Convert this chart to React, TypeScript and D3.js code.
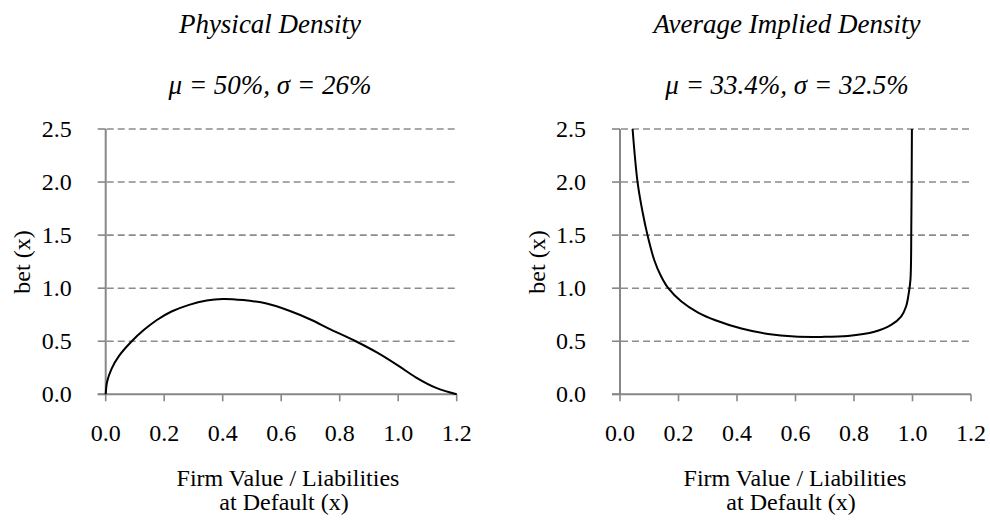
import React from "react";
import * as d3 from "d3";

const xTicks = [0, 0.2, 0.4, 0.6, 0.8, 1.0, 1.2];
const yTicks = [0, 0.5, 1.0, 1.5, 2.0, 2.5];

const physX = [0, 0.005, 0.02, 0.045, 0.089, 0.13, 0.175, 0.225, 0.285, 0.345, 0.4, 0.47, 0.55, 0.63, 0.7, 0.77, 0.855, 0.93, 1.0, 1.06, 1.13, 1.2];
const physY = [0, 0.12, 0.24, 0.36, 0.5, 0.605, 0.7, 0.78, 0.843, 0.884, 0.899, 0.888, 0.855, 0.785, 0.705, 0.61, 0.5, 0.39, 0.27, 0.16, 0.06, 0];

const implX = [0.043, 0.06, 0.077, 0.094, 0.117, 0.14, 0.165, 0.21, 0.267, 0.324, 0.415, 0.506, 0.597, 0.688, 0.779, 0.87, 0.927, 0.961, 0.978, 0.987, 0.993, 0.996, 0.998];
const implY = [2.5, 2.0, 1.72, 1.5, 1.266, 1.115, 1.0, 0.874, 0.77, 0.7, 0.62, 0.569, 0.544, 0.541, 0.55, 0.59, 0.654, 0.732, 0.827, 0.95, 1.08, 1.6, 2.5];

const titles = ["Physical Density", "Average Implied Density"];
const subtitles = ["\u03bc = 50%, \u03c3 = 26%", "\u03bc = 33.4%, \u03c3 = 32.5%"];
const yTitle = "bet (x)";
const xTitle1 = "Firm Value / Liabilities";
const xTitle2 = "at Default (x)";

const FONT = "Liberation Serif, DejaVu Serif, serif";
const AXIS = "#878787";
const GRID = "#8c8c8c";

type PanelProps = {
  x0: number;
  xs: number[];
  ys: number[];
  title: string;
  subtitle: string;
  titleCx: number;
  xTitleCx: number;
  yTitleX: number;
};

function Panel({ x0, xs, ys, title, subtitle, titleCx, xTitleCx, yTitleX }: PanelProps) {
  const x = d3.scaleLinear().domain([0, 1.2]).range([x0, x0 + 351]);
  const y = d3.scaleLinear().domain([0, 2.5]).range([394.3, 129]);
  const fmt = d3.format(".1f");
  const pts: [number, number][] = xs.map((v, i) => [v, ys[i]]);
  const line = d3
    .line<[number, number]>()
    .x((d) => x(d[0]))
    .y((d) => y(d[1]))
    .curve(d3.curveCatmullRom.alpha(0.5));
  const ts = { fontFamily: FONT };
  return (
    <g style={ts}>
      <text style={ts} x={titleCx} y={33} textAnchor="middle" fontSize={27} fontStyle="italic">{title}</text>
      <text style={ts} x={titleCx} y={93.5} textAnchor="middle" fontSize={27} fontStyle="italic">{subtitle}</text>
      {yTicks.filter((t) => t > 0).map((t) => (
        <line key={"g" + t} x1={x(0) + 1} x2={x(1.2) + 2} y1={y(t)} y2={y(t)} stroke={GRID} strokeWidth={1.6} strokeDasharray="7,4" />
      ))}
      {yTicks.map((t) => (
        <g key={"y" + t}>
          <line x1={x(0) - 8} x2={x(0)} y1={y(t)} y2={y(t)} stroke={AXIS} strokeWidth={1.6} />
          <text style={ts} x={x(0) - 34} y={y(t) + 8} textAnchor="end" fontSize={24}>{fmt(t)}</text>
        </g>
      ))}
      <line x1={x(0)} x2={x(0)} y1={y(2.5)} y2={y(0)} stroke={AXIS} strokeWidth={2} />
      <line x1={x(0) - 8} x2={x(1.2)} y1={y(0)} y2={y(0)} stroke={AXIS} strokeWidth={2} />
      {xTicks.map((t) => (
        <g key={"x" + t}>
          <line x1={x(t)} x2={x(t)} y1={y(0)} y2={y(0) + 7} stroke={AXIS} strokeWidth={1.6} />
          <text style={ts} x={x(t)} y={440.5} textAnchor="middle" fontSize={24}>{fmt(t)}</text>
        </g>
      ))}
      <path d={line(pts) || ""} fill="none" stroke="#000" strokeWidth={2} />
      <text style={ts} x={xTitleCx + 4} y={486} textAnchor="middle" fontSize={24}>{xTitle1}</text>
      <text style={ts} x={xTitleCx} y={510} textAnchor="middle" fontSize={24}>{xTitle2}</text>
      <text style={ts} transform={`translate(${yTitleX},262) rotate(-90)`} textAnchor="middle" fontSize={24}>{yTitle}</text>
    </g>
  );
}

export default function App() {
  return (
    <svg width={990} height={521} style={{ position: "absolute", left: 0, top: 0, background: "#fff", fontFamily: FONT }}>
      <rect width={990} height={521} fill="#fff" />
      <Panel x0={105.7} xs={physX} ys={physY} title={titles[0]} subtitle={subtitles[0]} titleCx={270} xTitleCx={284} yTitleX={30} />
      <Panel x0={620} xs={implX} ys={implY} title={titles[1]} subtitle={subtitles[1]} titleCx={787} xTitleCx={791} yTitleX={545} />
    </svg>
  );
}
